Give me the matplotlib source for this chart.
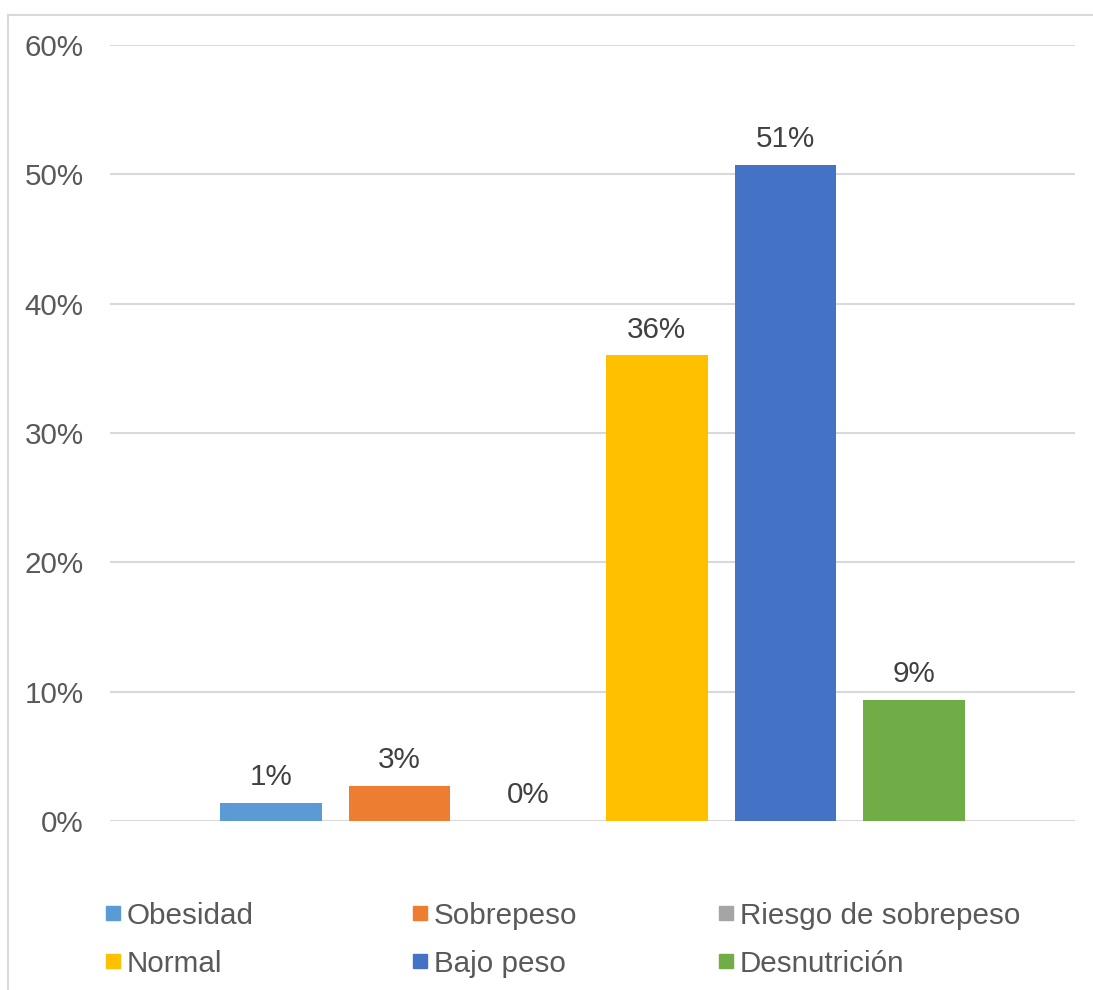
import matplotlib.pyplot as plt
from matplotlib.patches import Rectangle
from matplotlib.lines import Line2D

plt.rcParams['font.family'] = ['Liberation Sans', 'DejaVu Sans']

# Estado nutricional (porcentaje de niños)
categorias = ['Obesidad', 'Sobrepeso', 'Riesgo de sobrepeso',
              'Normal', 'Bajo peso', 'Desnutrición']
porcentajes = [1.4, 2.7, 0.0, 36.0, 50.7, 9.35]
colores = ['#5B9BD5', '#ED7D31', '#A5A5A5', '#FFC000', '#4472C4', '#70AD47']
y_ticks = [0, 10, 20, 30, 40, 50, 60]

W, H = 1093, 990
fig = plt.figure(figsize=(W / 100, H / 100), dpi=100)
ax = fig.add_axes([110 / W, 169 / H, 965 / W, 776 / H])

x = range(len(categorias))
bars = ax.bar(x, porcentajes, width=0.79, color=colores, zorder=3)
for b, v in zip(bars, porcentajes):
    ax.annotate(f'{v:.0f}%', (b.get_x() + b.get_width() / 2, v),
                xytext=(0, 8.5), textcoords='offset points',
                ha='center', va='bottom', fontsize=21.3, color='#404040')

ax.set_xlim(-1.248, 6.248)
ax.set_ylim(0, 60)
ax.set_yticks(y_ticks)
ax.set_yticklabels([f'{t}%' for t in y_ticks])
ax.set_xticks([])
ax.tick_params(axis='y', length=0, pad=19, labelsize=21.3, labelcolor='#595959')
ax.grid(axis='y', color='#D9D9D9', linewidth=1.5, zorder=0)
for s in ax.spines.values():
    s.set_visible(False)

# legend laid out in a 3x2 grid below the plot
for i, (nombre, c) in enumerate(zip(categorias, colores)):
    col, row = i % 3, i // 3
    x0 = 106 + col * 306.5
    yc = 913 + row * 48
    fig.add_artist(Rectangle((x0 / W, 1 - (yc + 7) / H), 14 / W, 14 / H,
                             transform=fig.transFigure, color=c))
    fig.text((x0 + 21) / W, 1 - (yc + 2.5) / H, nombre, fontsize=21.3,
             color='#595959', ha='left', va='center')

# chart frame
fig.add_artist(Line2D([8 / W, 1], [1 - 15 / H, 1 - 15 / H],
                      transform=fig.transFigure, color='#D9D9D9', lw=1.5))
fig.add_artist(Line2D([8 / W, 8 / W], [0, 1 - 15 / H],
                      transform=fig.transFigure, color='#D9D9D9', lw=1.5))

fig.savefig('out.png', dpi=100)
